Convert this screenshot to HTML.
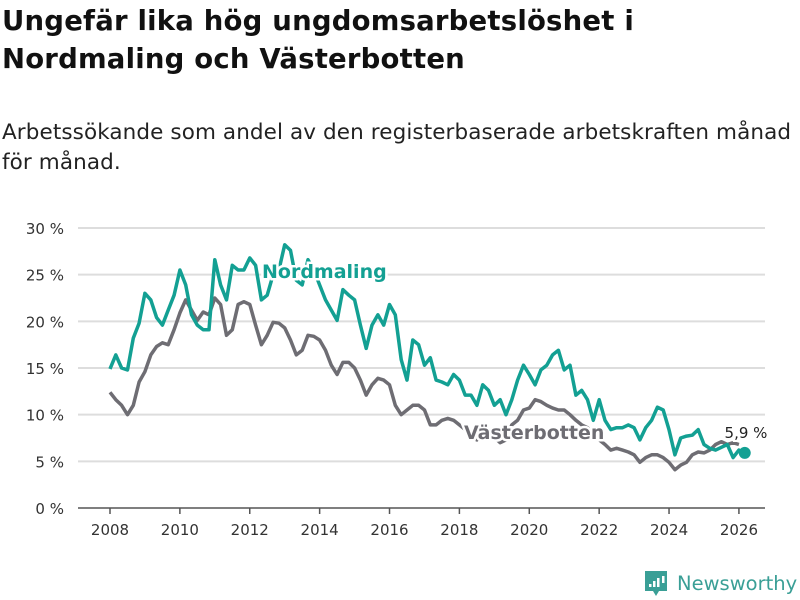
<!DOCTYPE html>
<html><head><meta charset="utf-8"><style>
body{margin:0;background:#fff;font-family:"DejaVu Sans","Liberation Sans",sans-serif;}
#wrap{position:relative;width:800px;height:600px;overflow:hidden;}
h1{position:absolute;left:2px;top:2px;margin:0;font-size:27.5px;line-height:38px;font-weight:bold;color:#111;letter-spacing:0.2px;}
.sub{position:absolute;left:2px;top:118px;margin:0;font-size:21.5px;line-height:30px;color:#222;letter-spacing:0.1px;}
svg{position:absolute;left:0;top:0;}
</style></head><body>
<div id="wrap">
<h1>Ungefär lika hög ungdomsarbetslöshet i<br>Nordmaling och Västerbotten</h1>
<p class="sub">Arbetssökande som andel av den registerbaserade arbetskraften månad<br>för månad.</p>
<svg id="chart" width="800" height="600"></svg>
</div>
<script>
const startYear = 2008;
const stepMonths = 2;
const yTicks = [0,5,10,15,20,25,30];
const xTicks = [2008,2010,2012,2014,2016,2018,2020,2022,2024,2026];
const nordmaling = [14.9,16.4,15,14.8,18.2,19.8,23,22.3,20.4,19.6,21.2,22.8,25.5,23.9,20.7,19.6,19.1,19.1,26.6,23.9,22.3,26,25.5,25.5,26.8,26,22.3,22.8,25,25.5,28.2,27.6,24.4,23.9,26.6,25.5,23.9,22.3,21.2,20.1,23.4,22.8,22.3,19.6,17.1,19.6,20.7,19.6,21.8,20.7,15.9,13.7,18,17.5,15.3,16.1,13.7,13.5,13.2,14.3,13.7,12.1,12.1,11,13.2,12.6,11,11.6,10,11.6,13.7,15.3,14.3,13.2,14.8,15.3,16.4,16.9,14.8,15.3,12.1,12.6,11.6,9.4,11.6,9.4,8.4,8.6,8.6,8.9,8.6,7.3,8.6,9.4,10.8,10.5,8.4,5.7,7.5,7.7,7.8,8.4,6.8,6.4,6.2,6.5,6.8,5.4,6.2,5.9];
const vasterbotten = [12.4,11.6,11,10,11,13.5,14.6,16.4,17.3,17.7,17.5,19.1,20.9,22.3,21.2,20.1,21,20.7,22.5,21.8,18.5,19.1,21.8,22.1,21.8,19.6,17.5,18.5,19.9,19.8,19.3,18,16.4,16.9,18.5,18.4,18,16.9,15.3,14.3,15.6,15.6,15,13.7,12.1,13.2,13.9,13.7,13.2,11,10,10.5,11,11,10.5,8.9,8.9,9.4,9.6,9.4,8.9,8.4,7.6,7.3,8.4,8.1,7.6,7,7.3,8.9,9.4,10.5,10.7,11.6,11.4,11,10.7,10.5,10.5,10,9.4,8.9,8.6,8.1,7.3,6.8,6.2,6.4,6.2,6,5.7,4.9,5.4,5.7,5.7,5.4,4.9,4.1,4.6,4.9,5.7,6,5.9,6.2,6.8,7.1,6.8,7,6.8];

const NS="http://www.w3.org/2000/svg";
const svg=document.getElementById('chart');
const xS=y=>110+(y-2008)*34.94;
const yS=v=>508-v*9.333;
function mk(t,a,txt){const e=document.createElementNS(NS,t);for(const k in a)e.setAttribute(k,a[k]);if(txt!==undefined)e.textContent=txt;svg.appendChild(e);return e;}
yTicks.forEach(v=>{
  const l=mk('line',{x1:78,x2:765,y1:yS(v),y2:yS(v),stroke:v===0?'#555':'#ddd','stroke-width':v===0?1.5:2});
  
  
  const t=mk('text',{x:64,y:yS(v)+6,'text-anchor':'end','font-size':15,fill:'#333'},v+' %');
  
  
});
xTicks.forEach(y=>{
  const l=mk('line',{x1:xS(y),x2:xS(y),y1:508,y2:514,stroke:'#555','stroke-width':1.5});
  
  
  const t=mk('text',{x:xS(y),y:535,'text-anchor':'middle','font-size':15,fill:'#333'},String(y));
  
  
});
function pts(arr){return arr.map((v,i)=>xS(startYear+i*stepMonths/12).toFixed(1)+','+yS(v).toFixed(1)).join(' ');}
const g=mk('polyline',{points:pts(vasterbotten),fill:'none',stroke:'#6e6d73','stroke-width':3.5,'stroke-linejoin':'round'});


const n=mk('polyline',{points:pts(nordmaling),fill:'none',stroke:'#13a093','stroke-width':3.5,'stroke-linejoin':'round'});


const li=nordmaling.length-1;
const d=mk('circle',{cx:xS(startYear+li*stepMonths/12),cy:yS(nordmaling[li]),r:6,fill:'#13a093'});


const lv=mk('text',{x:746,y:438,'text-anchor':'middle','font-size':15,fill:'#222',stroke:'#fff','stroke-width':4,'paint-order':'stroke'},nordmaling[li].toFixed(1).replace('.',',')+' %');


const l1=mk('text',{x:262,y:278,'font-size':19,'font-weight':'bold',fill:'#13a093',stroke:'#fff','stroke-width':5,'paint-order':'stroke'},'Nordmaling');


const l2=mk('text',{x:464,y:439,'font-size':19,'font-weight':'bold',fill:'#6e6d73',stroke:'#fff','stroke-width':5,'paint-order':'stroke'},'Västerbotten');


const lg=mk('path',{d:'M645 571 h22 v20 h-8 l-3 5 l-3 -5 h-8 z',fill:'#3a9f96'});


[[649,584,3],[653,581,6],[657,578,9],[662,576,7]].forEach(b=>{const r=mk('rect',{x:b[0],y:b[1],width:2.5,height:b[2],fill:'#fff'});});
const lt=mk('text',{x:677,y:590,'font-size':19.5,fill:'#3a9f96'},'Newsworthy');


</script>
</body></html>
